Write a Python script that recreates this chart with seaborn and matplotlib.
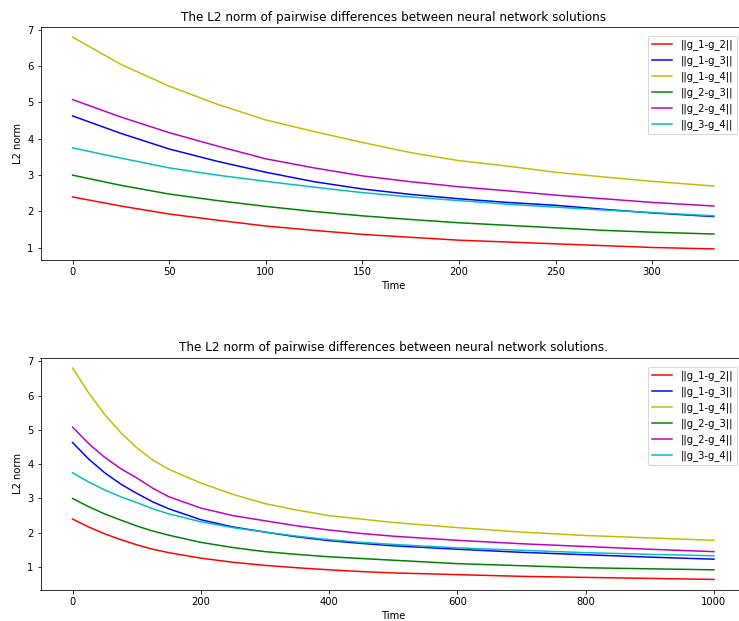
import matplotlib
matplotlib.use("Agg")
import matplotlib.pyplot as plt
import seaborn as sns

labels = ["||g_1-g_2||", "||g_1-g_3||", "||g_1-g_4||", "||g_2-g_3||", "||g_2-g_4||", "||g_3-g_4||"]
colors = ["r", "b", "y", "g", "m", "c"]

# Top panel (Time 0..332)
t_top = [0, 25, 50, 75, 100, 125, 150, 175, 200, 225, 250, 275, 300, 332]
top_g12 = [2.4, 2.15, 1.93, 1.76, 1.6, 1.48, 1.37, 1.29, 1.21, 1.16, 1.11, 1.06, 1.01, 0.97]
top_g13 = [4.63, 4.15, 3.72, 3.38, 3.08, 2.82, 2.62, 2.47, 2.35, 2.25, 2.17, 2.06, 1.96, 1.86]
top_g14 = [6.8, 6.05, 5.45, 4.95, 4.52, 4.2, 3.9, 3.62, 3.4, 3.25, 3.08, 2.95, 2.83, 2.7]
top_g23 = [3.0, 2.72, 2.48, 2.3, 2.14, 2.0, 1.88, 1.78, 1.69, 1.62, 1.55, 1.48, 1.43, 1.38]
top_g24 = [5.08, 4.6, 4.17, 3.8, 3.45, 3.2, 2.98, 2.82, 2.68, 2.57, 2.45, 2.35, 2.25, 2.15]
top_g34 = [3.75, 3.47, 3.2, 3.0, 2.83, 2.67, 2.52, 2.4, 2.3, 2.2, 2.12, 2.04, 1.97, 1.88]

# Bottom panel (Time 0..1000)
t_bot = [0, 25, 50, 75, 100, 125, 150, 200, 250, 300, 350, 400, 450, 500, 600, 700, 800, 900, 1000]
bot_g12 = [2.4, 2.17, 1.97, 1.8, 1.65, 1.52, 1.42, 1.26, 1.14, 1.05, 0.98, 0.92, 0.87, 0.83, 0.78, 0.73, 0.7, 0.67, 0.64]
bot_g13 = [4.63, 4.15, 3.75, 3.42, 3.15, 2.9, 2.7, 2.38, 2.17, 2.02, 1.88, 1.77, 1.69, 1.62, 1.52, 1.43, 1.36, 1.29, 1.23]
bot_g14 = [6.8, 6.08, 5.45, 4.92, 4.48, 4.12, 3.85, 3.45, 3.12, 2.85, 2.66, 2.5, 2.4, 2.3, 2.15, 2.02, 1.92, 1.85, 1.78]
bot_g23 = [3.0, 2.76, 2.55, 2.37, 2.2, 2.05, 1.93, 1.72, 1.57, 1.45, 1.37, 1.3, 1.25, 1.2, 1.1, 1.04, 0.98, 0.95, 0.92]
bot_g24 = [5.08, 4.6, 4.2, 3.87, 3.6, 3.3, 3.05, 2.72, 2.5, 2.35, 2.2, 2.08, 1.98, 1.9, 1.78, 1.68, 1.6, 1.52, 1.45]
bot_g34 = [3.75, 3.48, 3.25, 3.05, 2.88, 2.7, 2.55, 2.32, 2.15, 2.02, 1.9, 1.8, 1.72, 1.66, 1.56, 1.49, 1.42, 1.37, 1.33]

top_series = [top_g12, top_g13, top_g14, top_g23, top_g24, top_g34]
bot_series = [bot_g12, bot_g13, bot_g14, bot_g23, bot_g24, bot_g34]

plt.rcParams['font.family'] = ['DejaVu Sans']
fig = plt.figure(figsize=(739 / 72, 621 / 72), dpi=72)
W, H = 739.0, 621.0
ax1 = fig.add_axes([40.5 / W, 1 - 259.5 / H, (746 - 40.5) / W, (259.5 - 26.5) / H])
ax2 = fig.add_axes([40.5 / W, 1 - 590 / H, (746 - 40.5) / W, (590 - 357.5) / H])

for ax, t, series, title in [
    (ax1, t_top, top_series, "The L2 norm of pairwise differences between neural network solutions"),
    (ax2, t_bot, bot_series, "The L2 norm of pairwise differences between neural network solutions."),
]:
    for s, c, lab in zip(series, colors, labels):
        sns.lineplot(x=t, y=s, color=c, label=lab, ax=ax, linewidth=1.5)
    ax.set_title(title, fontsize=12)
    ax.set_xlabel("Time", fontsize=10)
    ax.set_ylabel("L2 norm", fontsize=10)
    ax.tick_params(labelsize=10)
    for sp in ax.spines.values():
        sp.set_visible(True)
    ax.legend(loc="upper right", fontsize=10, borderaxespad=0.9)

fig.savefig("out.png", dpi=72)
